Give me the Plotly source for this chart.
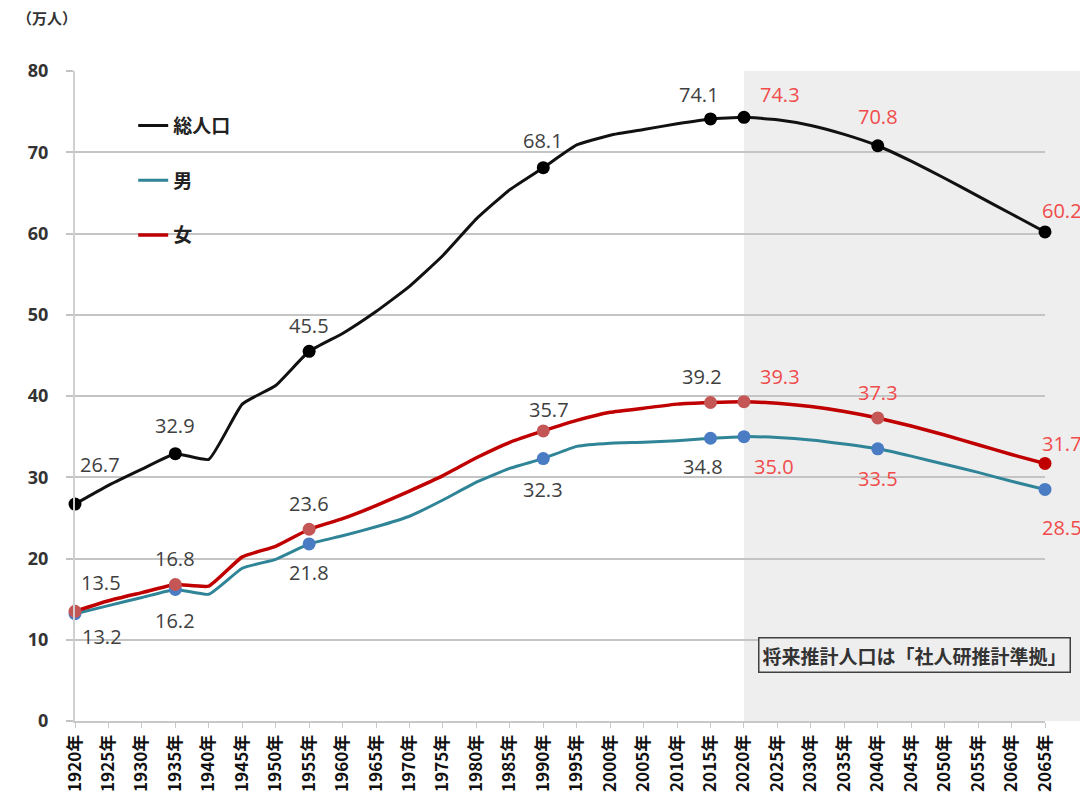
import plotly.graph_objects as go

# ---------------- data ----------------
years = [1920, 1925, 1930, 1935, 1940, 1945, 1950, 1955, 1960, 1965,
         1970, 1975, 1980, 1985, 1990, 1995, 2000, 2005, 2010, 2015,
         2020, 2025, 2030, 2035, 2040, 2045, 2050, 2055, 2060, 2065]
year_labels = [f"{y}年" for y in years]

total = [26.7, 29.0, 31.0, 32.9, 32.2, 39.0, 41.3, 45.5, 47.7, 50.4,
         53.5, 57.3, 61.8, 65.4, 68.1, 70.9, 72.1, 72.8, 73.5, 74.1,
         74.3, 74.0, 73.3, 72.2, 70.8, 68.9, 66.8, 64.6, 62.4, 60.2]
male = [13.2, 14.2, 15.2, 16.2, 15.6, 18.8, 19.9, 21.8, 22.8, 23.9,
        25.2, 27.2, 29.4, 31.1, 32.3, 33.8, 34.2, 34.3, 34.5, 34.8,
        35.0, 34.9, 34.6, 34.1, 33.5, 32.6, 31.6, 30.6, 29.5, 28.5]
female = [13.5, 14.8, 15.8, 16.8, 16.6, 20.2, 21.5, 23.6, 24.9, 26.5,
          28.3, 30.2, 32.4, 34.3, 35.7, 37.0, 38.0, 38.5, 39.0, 39.2,
          39.3, 39.1, 38.7, 38.1, 37.3, 36.3, 35.2, 34.0, 32.8, 31.7]

marker_years = [1920, 1935, 1955, 1990, 2015, 2020, 2040, 2065]
projection_start = 2020

series_names = ["総人口", "男", "女"]
y_ticks = [0, 10, 20, 30, 40, 50, 60, 70, 80]
unit_label = "（万人）"
note_text = "将来推計人口は「社人研推計準拠」"

# ---------------- styles ----------------
LINE_COLORS = {"総人口": "#111111", "男": "#2F8597", "女": "#C00000"}
LINE_WIDTHS = {"総人口": 3, "男": 3, "女": 3.5}
MARKER_COLORS = {"総人口": "#000000", "男": "#4A7CC4", "女": "#C45656"}
LAST_MARKER = {"総人口": "#000000", "男": "#4A7CC4", "女": "#C00000"}
LABEL_OFFSETS = {
    "総人口": [(25, 40), (0, 28), (0, 26), (0, 27), (-12, 24), (36, 23), (0, 29), (17, 21)],
    "女": [(26, 29), (0, 26), (0, 26), (6, 21), (-9, 26), (36, 25), (0, 25), (17, 20)],
    "男": [(27, -23), (0, -31), (0, -29), (0, -31), (-8, -28), (30, -30), (0, -30), (17, -38)],
}
HIST_COLOR = "#404040"
PROJ_COLOR = "#F04B4B"
GRID = "#C4C4C4"
NUM_FONT = "Open Sans"
JP_FONT = "Noto Sans CJK JP"

data = {"総人口": total, "男": male, "女": female}

fig = go.Figure()

# projection shading
x0_paper = (projection_start - years[0]) / (years[-1] - years[0])
fig.add_shape(type="rect", xref="paper", yref="paper", x0=x0_paper, x1=1.05,
              y0=0, y1=1.0, fillcolor="#EEEEEE", line_width=0, layer="below")

for name in series_names:
    vals = data[name]
    fig.add_trace(go.Scatter(
        x=years, y=vals, mode="lines", name=name, legendgroup=name,
        line=dict(color=LINE_COLORS[name], width=LINE_WIDTHS[name],
                  shape="spline", smoothing=0.4),
        cliponaxis=False,
    ))

for name in series_names:
    vals = data[name]
    my = [vals[years.index(y)] for y in marker_years]
    colors = [MARKER_COLORS[name]] * (len(marker_years) - 1) + [LAST_MARKER[name]]
    fig.add_trace(go.Scatter(
        x=marker_years, y=my, mode="markers", showlegend=False,
        marker=dict(color=colors, size=13, line=dict(width=0)),
        cliponaxis=False,
    ))
    for (yr, v), (dx, dy) in zip(zip(marker_years, my), LABEL_OFFSETS[name]):
        fig.add_annotation(
            x=yr, y=v, xref="x", yref="y", text=f"{v:.1f}", showarrow=False,
            xshift=dx, yshift=dy,
            font=dict(family=NUM_FONT, size=20,
                      color=PROJ_COLOR if yr >= projection_start else HIST_COLOR),
        )

# unit label
fig.add_annotation(xref="paper", yref="paper", x=-0.062, y=1.082,
                   xanchor="left", yanchor="middle",
                   text=unit_label, showarrow=False,
                   font=dict(family=JP_FONT, size=15, color="#333333", weight="bold"))
# note box
fig.add_annotation(xref="paper", yref="paper", x=0.865, y=0.102,
                   xanchor="center", yanchor="middle", text=note_text,
                   showarrow=False, bordercolor="#404040", borderwidth=1.5, borderpad=3,
                   bgcolor="#EEEEEE",
                   font=dict(family=JP_FONT, size=19, color="#333333", weight="bold"))

fig.update_layout(
    width=1080, height=797,
    margin=dict(l=67, r=43, t=63, b=84),
    paper_bgcolor="white", plot_bgcolor="rgba(0,0,0,0)",
    showlegend=True,
    legend=dict(x=0.06, y=0.945, xanchor="left", yanchor="top",
                bgcolor="rgba(0,0,0,0)", tracegroupgap=27, itemwidth=30,
                font=dict(family=JP_FONT, size=19, color="#222222", weight="bold")),
    xaxis=dict(range=[years[0], years[-1]], tickmode="array", tickvals=years,
               ticktext=year_labels, tickangle=-90, showgrid=False, zeroline=False,
               showline=True, linecolor="#C8C8C8", linewidth=2,
               ticks="outside", ticklen=5, tickcolor="#C8C8C8",
               tickfont=dict(family=JP_FONT, size=17, color="#111111", weight="bold")),
    yaxis=dict(range=[0, 80], tickmode="array", tickvals=y_ticks,
               showgrid=True, gridcolor=GRID, gridwidth=2, zeroline=False,
               showline=True, linecolor="#D0D0D0", linewidth=2,
               ticks="outside", ticklen=7, tickcolor=GRID, tickwidth=2,
               ticklabelstandoff=14,
               tickfont=dict(family=NUM_FONT, size=18, color="#333333", weight="bold")),
)

fig.write_html("out.html")
